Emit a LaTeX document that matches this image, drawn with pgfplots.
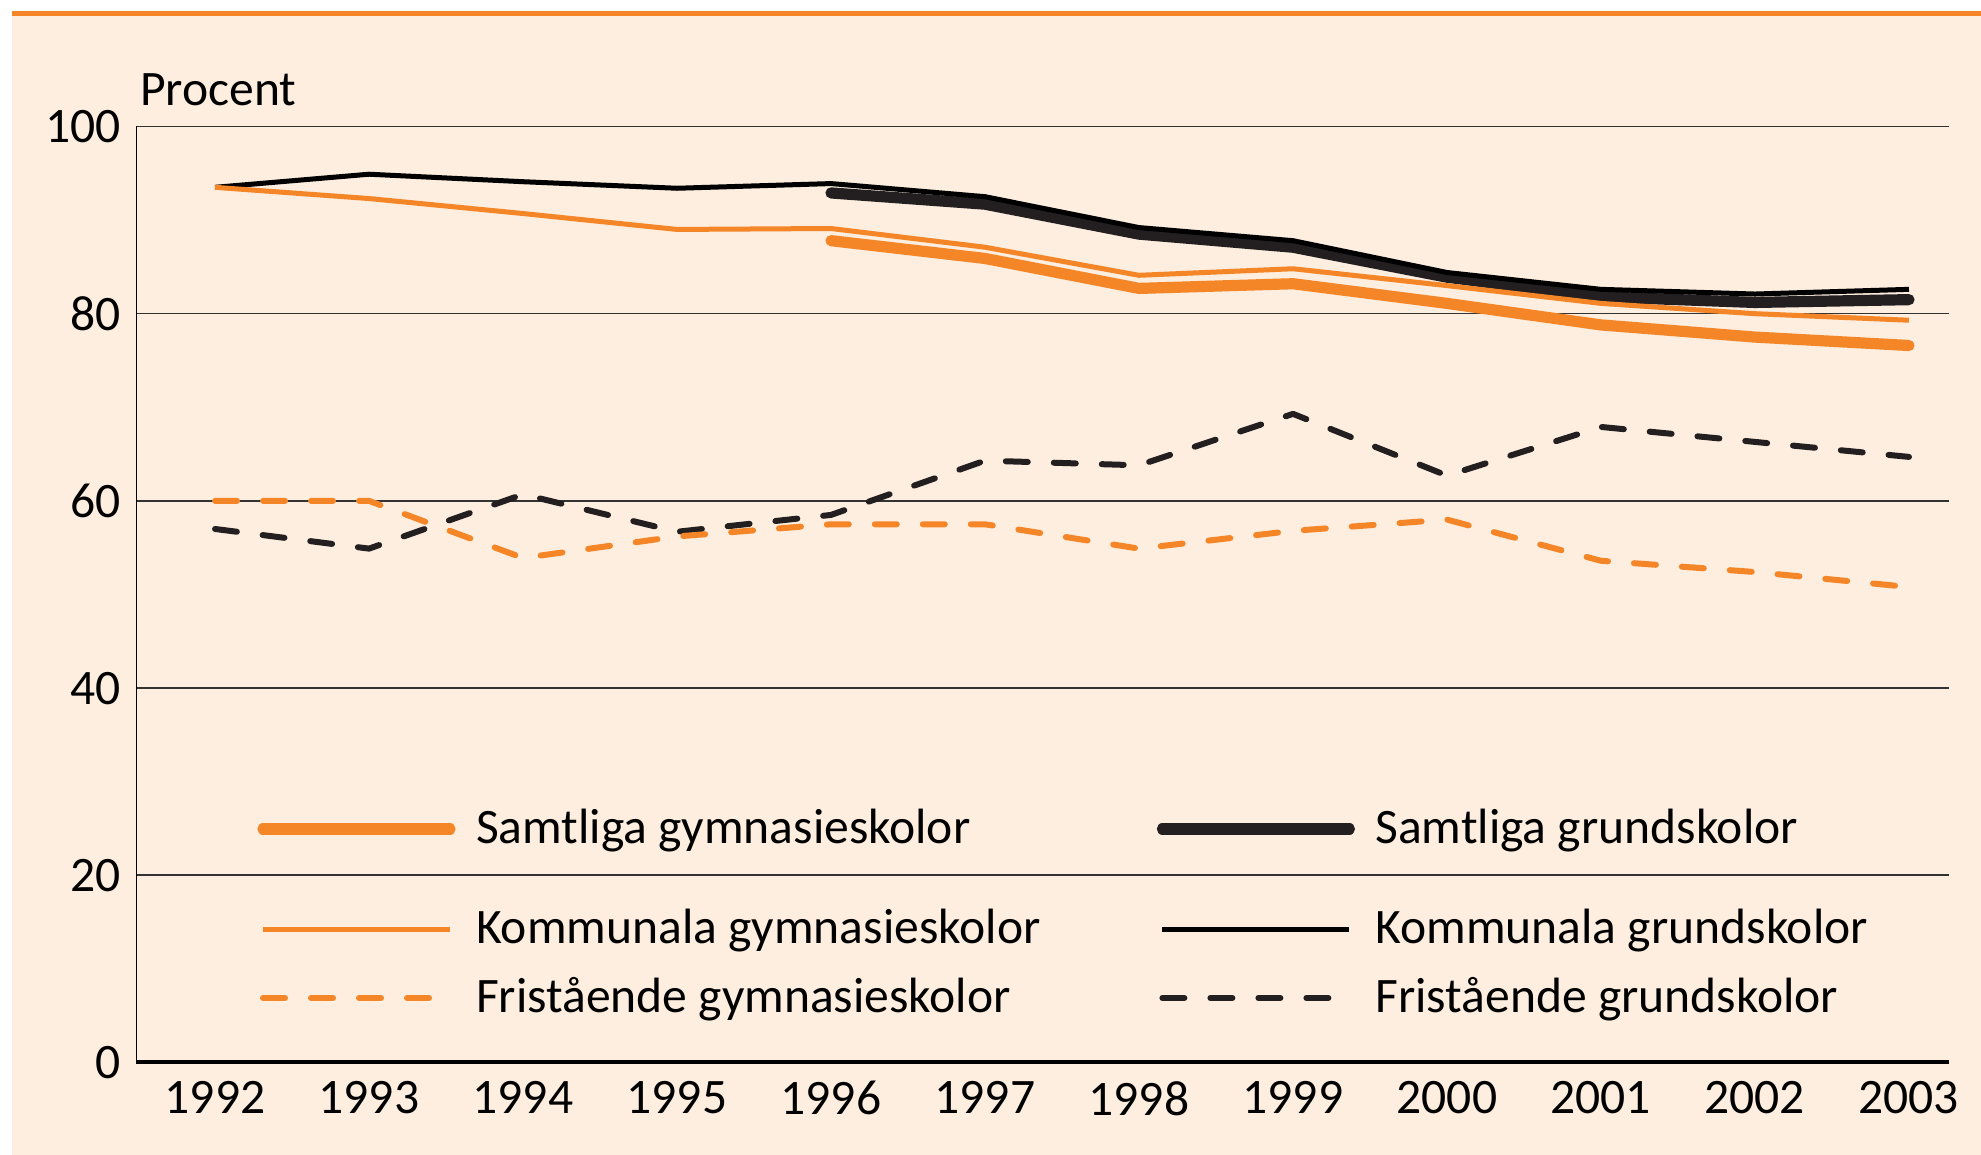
\documentclass[border=0pt]{standalone}
\usepackage{pgfplots}
\pgfplotsset{compat=1.18}
\usepackage{fontspec}
\setmainfont{Carlito}
\definecolor{bgpeach}{RGB}{253,238,224}
\definecolor{sorange}{RGB}{245,134,40}
\definecolor{sblack}{RGB}{35,31,32}
\newcommand{\chartfont}{\fontsize{12.4}{14}\selectfont}
\pgfplotsset{
  common/.style={at={(0pt,0pt)}, anchor=south west, scale only axis,
    width=453.125pt, height=234pt},
  legaxis/.style={common, xmin=0, xmax=1, ymin=0, ymax=1, hide axis,
    legend columns=2, legend cell align=left,
    legend style={draw=none, fill=none, inner sep=0pt, outer sep=0pt,
      font=\chartfont, nodes={inner sep=0pt},
      /tikz/every odd column/.append style={column sep=6.5pt}},
    legend image code/.code={%
      \pgfpathrectangle{\pgfpoint{0pt}{-1pt}}{\pgfpoint{46.75pt}{2pt}}%
      \pgfusepath{use as bounding box}%
      \draw[##1, overlay] (0pt,0pt) -- (46.75pt,0pt);}},
  thickor/.style={sorange, line width=2.8pt, line cap=round, line join=round},
  thickbl/.style={sblack, line width=2.8pt, line cap=round, line join=round},
  thinor/.style={sorange, line width=1.25pt, line join=round},
  thinbl/.style={black, line width=1.25pt, line join=round},
  dashor/.style={sorange, line width=1.5pt, line cap=round, line join=round, dash pattern=on 5.5pt off 6.5pt},
  dashbl/.style={sblack, line width=1.5pt, line cap=round, line join=round, dash pattern=on 5.5pt off 6.5pt},
}
\begin{document}
\begin{tikzpicture}
\useasboundingbox (-34.125pt,-23.125pt) rectangle (461.125pt,265.625pt);
\fill[bgpeach] (-31.125pt,-23.125pt) rectangle (461.125pt,262.95pt);
\draw[sorange, line width=1.3pt] (-31.125pt,262.3pt) -- (461.125pt,262.3pt);

\begin{axis}[common,
  xmin=1991.49, xmax=2003.26, ymin=0, ymax=100,
  axis x line*=bottom, axis y line*=left,
  x axis line style={line width=1pt, -},
  y axis line style={line width=0.4pt, -},
  xtick={1992,...,2003}, ytick={0,20,...,100},
  major tick length=0pt,
  ymajorgrids, grid style={line width=0.4pt, color=black!80},
  /pgf/number format/assume math mode=true,
  /pgf/number format/1000 sep={},
  tick label style={font=\chartfont},
  xticklabel style={yshift=-1.2pt},
  yticklabel style={xshift=-0.45pt},
  clip mode=individual,
]
\addplot[dashbl] coordinates {(1992,57.0) (1993,54.9) (1994,60.7) (1995,56.7) (1996,58.5) (1997,64.3) (1998,63.8) (1999,69.3) (2000,62.7) (2001,67.9) (2002,66.3) (2003,64.7)};
\addplot[dashor] coordinates {(1992,60.0) (1993,60.0) (1994,53.9) (1995,56.2) (1996,57.5) (1997,57.5) (1998,54.9) (1999,56.8) (2000,58.0) (2001,53.6) (2002,52.4) (2003,50.8)};
\addplot[thickbl] coordinates {(1996,92.9) (1997,91.7) (1998,88.5) (1999,87.1) (2000,83.9) (2001,81.8) (2002,81.2) (2003,81.5)};
\addplot[thickor] coordinates {(1996,87.8) (1997,85.9) (1998,82.7) (1999,83.2) (2000,81.1) (2001,78.8) (2002,77.5) (2003,76.6)};
\addplot[thinbl] coordinates {(1992,93.5) (1993,94.9) (1994,94.1) (1995,93.4) (1996,93.9) (1997,92.5) (1998,89.2) (1999,87.8) (2000,84.4) (2001,82.6) (2002,82.1) (2003,82.6)};
\addplot[thinor] coordinates {(1992,93.5) (1993,92.3) (1994,90.7) (1995,89.0) (1996,89.1) (1997,87.1) (1998,84.1) (1999,84.8) (2000,83.0) (2001,81.1) (2002,80.0) (2003,79.3)};
\node[anchor=base west, inner sep=0pt, font=\chartfont, xshift=0.7pt, yshift=5.3pt] at (rel axis cs:0,1) {Procent};
\end{axis}

\begin{axis}[legaxis, legend style={at={(0.0698,0.2495)}, anchor=west}]
\addlegendimage{thickor}
\addlegendentry{\makebox[171.6pt][l]{Samtliga gymnasieskolor}}
\addlegendimage{thickbl}
\addlegendentry{Samtliga grundskolor}
\end{axis}

\begin{axis}[legaxis, legend style={at={(0.0698,0.1421)}, anchor=west}]
\addlegendimage{thinor}
\addlegendentry{\makebox[171.6pt][l]{Kommunala gymnasieskolor}}
\addlegendimage{thinbl}
\addlegendentry{Kommunala grundskolor}
\end{axis}

\begin{axis}[legaxis, legend style={at={(0.0698,0.0689)}, anchor=west}]
\addlegendimage{dashor}
\addlegendentry{\makebox[171.6pt][l]{Fristående gymnasieskolor}}
\addlegendimage{dashbl}
\addlegendentry{Fristående grundskolor}
\end{axis}
\end{tikzpicture}
\end{document}
